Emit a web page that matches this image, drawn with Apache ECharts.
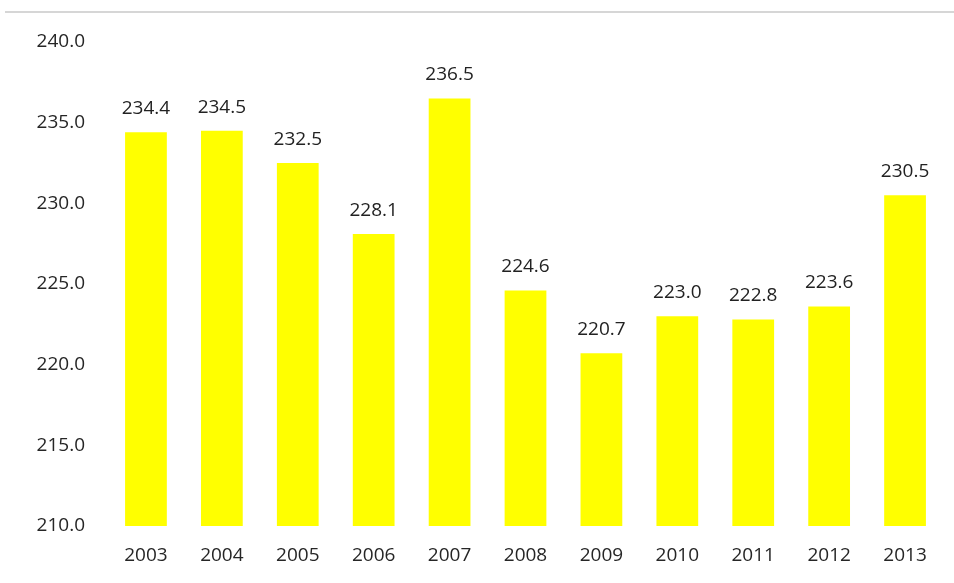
<!DOCTYPE html>
<html>
<head>
<meta charset="utf-8">
<script src="https://cdn.jsdelivr.net/npm/echarts@6/dist/echarts.min.js"></script>
<style>html,body{margin:0;padding:0;background:#fff;}#c{width:954px;height:583px;}</style>
</head>
<body>
<div id="c"></div>
<script>
var categories = ['2003','2004','2005','2006','2007','2008','2009','2010','2011','2012','2013'];
var values = [234.4, 234.5, 232.5, 228.1, 236.5, 224.6, 220.7, 223.0, 222.8, 223.6, 230.5];
var yMin = 210, yMax = 240, yStep = 5;

var chart = echarts.init(document.getElementById('c'));
var font = 'Open Sans';
chart.setOption({
  backgroundColor: '#ffffff',
  animation: false,
  graphic: [{
    type: 'line', shape: {x1: 5, y1: 12, x2: 954, y2: 12},
    style: {stroke: '#c8c8c8', lineWidth: 1.5}
  }],
  grid: {left: 108, right: 11, top: 42, bottom: 57, containLabel: false},
  xAxis: {
    type: 'category', data: categories,
    axisLine: {show: false}, axisTick: {show: false},
    axisLabel: {color: '#262626', fontSize: 19, fontFamily: font, margin: 20}
  },
  yAxis: {
    type: 'value', min: yMin, max: yMax, interval: yStep,
    splitLine: {show: false}, axisLine: {show: false}, axisTick: {show: false},
    axisLabel: {color: '#262626', fontSize: 19, fontFamily: font, margin: 23,
      formatter: function (v) { return v.toFixed(1); }}
  },
  series: [{
    type: 'bar', data: values, barWidth: '55%',
    itemStyle: {color: '#ffff00'},
    label: {show: true, position: 'top', distance: 14, color: '#222', fontSize: 19, fontFamily: font,
      formatter: function (p) { return p.value.toFixed(1); }}
  }]
});
</script>
</body>
</html>
